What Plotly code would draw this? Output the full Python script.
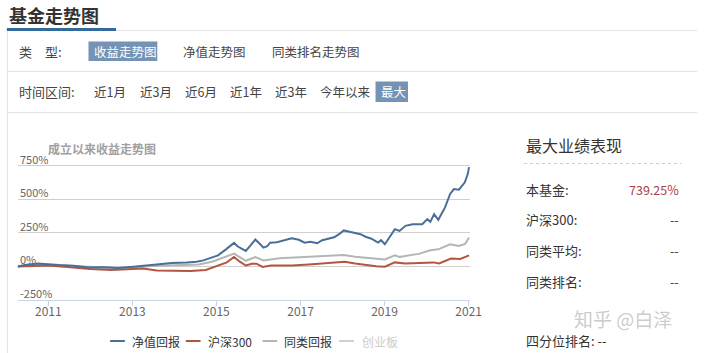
import plotly.graph_objects as go

# ---------------- data ----------------
nav_dates = ["2010-04-10", "2010-06-10", "2010-09-27", "2011-01-01", "2011-04-05", "2011-08-08",
             "2011-12-17", "2012-04-20", "2012-08-28", "2012-12-17", "2013-03-28", "2013-08-04",
             "2013-12-10", "2014-04-16", "2014-07-12", "2014-09-10", "2014-11-18", "2015-01-15",
             "2015-03-25", "2015-05-08", "2015-06-03", "2015-07-06", "2015-08-08", "2015-09-13",
             "2015-10-23", "2015-12-05", "2016-01-08", "2016-02-14", "2016-03-18", "2016-04-12",
             "2016-06-10", "2016-07-31", "2016-09-06", "2016-10-16", "2016-12-17", "2017-02-06",
             "2017-03-28", "2017-05-26", "2017-07-08", "2017-09-06", "2017-10-20", "2017-12-02",
             "2018-01-12", "2018-03-03", "2018-04-23", "2018-06-06", "2018-07-20", "2018-09-09",
             "2018-11-06", "2018-12-02", "2019-01-04", "2019-02-17", "2019-04-01", "2019-05-12",
             "2019-07-02", "2019-09-02", "2019-11-25", "2020-01-08", "2020-02-03", "2020-03-07",
             "2020-04-12", "2020-06-10", "2020-07-24", "2020-08-26", "2020-10-09", "2020-11-29",
             "2020-12-25", "2021-01-05"]
nav_values = [0, 10, 22, 14, 10, 5,
              -8, -6, -12, -4, 6, 18,
              26, 30, 35, 45, 66, 82,
              127, 157, 175, 148, 133, 115,
              155, 200, 172, 140, 150, 177,
              180, 190, 198, 210, 198, 177,
              183, 172, 195, 206, 217, 240,
              268, 258, 247, 240, 221, 206,
              177, 195, 165, 217, 277, 264,
              302, 314, 314, 352, 332, 389,
              347, 439, 539, 576, 571, 626,
              689, 739.25]

hs300_dates = ["2010-04-10", "2010-08-01", "2011-01-01", "2011-06-15", "2012-01-01", "2012-07-01",
               "2013-01-01", "2013-04-01", "2013-08-01", "2014-01-01", "2014-05-20", "2014-10-01",
               "2014-12-05", "2015-02-06", "2015-04-01", "2015-06-03", "2015-07-20", "2015-09-13",
               "2015-11-06", "2015-12-15", "2016-02-06", "2016-04-20", "2016-10-20", "2017-03-15",
               "2017-08-08", "2018-01-20", "2018-04-20", "2018-07-20", "2018-10-20", "2019-01-04",
               "2019-04-01", "2019-07-01", "2019-11-25", "2020-03-01", "2020-04-20", "2020-08-01",
               "2020-10-20", "2021-01-05"]
hs300_values = [0, 3, 6, -5, -20, -26,
                -18, -16, -30, -33, -34, -26,
                -7, 11, 30, 70, 37, 7,
                19, 20, -4, 7, 7, 15,
                22, 34, 22, 10, 2, -2,
                30, 22, 26, 30, 22, 58,
                56, 82]

peer_dates = ["2010-04-10", "2010-08-01", "2011-01-01", "2011-08-01", "2012-03-01", "2012-09-01",
              "2013-01-01", "2013-08-01", "2014-03-01", "2014-08-01", "2014-12-01", "2015-03-25",
              "2015-06-03", "2015-09-13", "2015-12-05", "2016-02-14", "2016-07-01", "2017-02-06",
              "2017-07-01", "2018-01-12", "2018-04-20", "2018-08-01", "2018-11-01", "2019-01-04",
              "2019-04-01", "2019-05-12", "2019-11-01", "2020-02-03", "2020-04-12", "2020-07-24",
              "2020-10-09", "2020-12-01", "2021-01-05"]
peer_values = [0, 12, 10, 3, -8, -12,
               -6, 5, 10, 15, 37, 70,
               95, 42, 70, 45, 60, 70,
               75, 85, 72, 65, 55, 52,
               82, 70, 95, 120, 127, 165,
               152, 168, 215]

series_names = ["净值回报", "沪深300", "同类回报", "创业板"]
y_tick_vals = [-250, 0, 250, 500, 750, 1000]
y_tick_text = ["-250%", "0%", "250%", "500%", "750%", ""]
x_tick_text = ["2011", "2013", "2015", "2017", "2019", "2021"]

type_options = ["收益走势图", "净值走势图", "同类排名走势图"]
period_options = ["近1月", "近3月", "近6月", "近1年", "近3年", "今年以来", "最大"]
perf_labels = ["本基金:", "沪深300:", "同类平均:", "同类排名:"]
perf_values = ["739.25%", "--", "--", "--"]

# ---------------- styles ----------------
W, H = 709, 353
FONT = "Noto Sans CJK SC"
C_BLUE = "#4b6e96"
C_RED = "#b3563f"
C_GRAY = "#b5b5b5"
C_LIGHT = "#d0d0d0"
colors = [C_BLUE, C_RED, C_GRAY, C_LIGHT]


def px(x):
    return x / W


def py(y):
    return 1 - y / H


fig = go.Figure()
for name, d, v, c in [(series_names[2], peer_dates, peer_values, C_GRAY),
                      (series_names[1], hs300_dates, hs300_values, C_RED),
                      (series_names[0], nav_dates, nav_values, C_BLUE)]:
    fig.add_trace(go.Scatter(x=d, y=v, mode="lines", name=name, showlegend=False,
                             line=dict(color=c, width=2), hoverinfo="skip"))

shapes = []
annotations = []


def text(x, y, s, size=13, color="#333", anchor="left", bold=False):
    annotations.append(dict(x=px(x), y=py(y), xref="paper", yref="paper", text=("<b>%s</b>" % s) if bold else s,
                            showarrow=False, xanchor=anchor, yanchor="middle",
                            font=dict(family=FONT, size=size, color=color)))


def hline(x0, x1, y, color="#e3e3e3", width=1, dash="solid"):
    shapes.append(dict(type="line", xref="paper", yref="paper", x0=px(x0), x1=px(x1), y0=py(y), y1=py(y),
                       line=dict(color=color, width=width, dash=dash)))


def rect(x0, x1, y0, y1, fill):
    shapes.append(dict(type="rect", xref="paper", yref="paper", x0=px(x0), x1=px(x1), y0=py(y1), y1=py(y0),
                       fillcolor=fill, line=dict(width=0), layer="below"))


# header
text(7, 15, "基金走势图", size=18, color="#333", bold=True)
rect(7, 118, 28, 31, "#336a9c")
hline(118, 709, 30.5)
shapes.append(dict(type="line", xref="paper", yref="paper", x0=px(7.5), x1=px(7.5), y0=py(31), y1=0,
                   line=dict(color="#e3e3e3", width=1)))
hline(8, 709, 71.5)
hline(8, 709, 112.5)

# type row
text(17, 51.5, "类　型:", size=13, color="#444")
rect(90, 160, 41.5, 61, "#7593b5")
type_x = [94, 184, 275]
for i, (s, x) in enumerate(zip(type_options, type_x)):
    text(x, 51.5, s, size=12.5, color="#fff" if i == 0 else "#444")

# period row
text(17, 92, "时间区间:", size=13, color="#444")
rect(382, 415, 81.5, 102, "#7593b5")
period_x = [94, 140, 186, 232, 278, 323, 386]
for i, (s, x) in enumerate(zip(period_options, period_x)):
    text(x, 92, s, size=12.5, color="#fff" if i == len(period_options) - 1 else "#444")

# chart title
text(47, 148, "成立以来收益走势图", size=12, color="#a0a0a0", bold=True)

# y tick labels, placed on the y axis scale (Highcharts style: inside, above grid line)
for v, s in zip(y_tick_vals, y_tick_text):
    if s:
        annotations.append(dict(x=px(18), y=v, xref="paper", yref="y", text=s, showarrow=False,
                                xanchor="left", yanchor="middle", yshift=7,
                                font=dict(family=FONT, size=11, color="#666")))

# legend (manual, Highcharts style)
leg_sym_x = [112, 189, 267, 345]
leg_txt_x = [132, 210, 287, 366]
for i, name in enumerate(series_names):
    hline(leg_sym_x[i], leg_sym_x[i] + 15, 341, color=colors[i], width=2)
    text(leg_txt_x[i], 341, name, size=12, color="#333" if i < 3 else "#cccccc")

# right panel
text(533, 145, "最大业绩表现", size=16, color="#333")
hline(533, 693, 163.5, color="#cccccc", width=1, dash="dot")
perf_y = [190, 219.5, 250.5, 281]
for lab, val, y in zip(perf_labels, perf_values, perf_y):
    text(533, y, lab, size=13, color="#333")
    text(693, y, val, size=12.5, color="#a8404a" if val != "--" else "#333", anchor="right")
text(533, 340, "四分位排名: --", size=13, color="#333")
text(582, 318, "知乎 @白泽", size=19, color="rgba(160,160,160,0.55)")

fig.update_layout(
    width=W, height=H, autosize=False,
    margin=dict(l=0, r=0, t=0, b=0),
    paper_bgcolor="white", plot_bgcolor="white",
    showlegend=False,
    shapes=shapes,
    annotations=annotations,
    xaxis=dict(domain=[px(18), px(478)], type="date",
               range=["2010-04-10", "2021-01-12"],
               tickvals=["%s-01-01" % t for t in x_tick_text], ticktext=x_tick_text,
               showgrid=False, showline=True, linecolor="#ccd6eb", linewidth=1,
               ticks="outside", ticklen=5, tickcolor="#ccd6eb", ticklabelstandoff=-4,
               tickfont=dict(family=FONT, size=12, color="#666"), zeroline=False, fixedrange=True),
    yaxis=dict(domain=[py(300), py(132)], range=[-250, 1000.6],
               tickvals=y_tick_vals, showticklabels=False,
               showgrid=True, gridcolor="#cfcfcf", gridwidth=1, zeroline=False, showline=False,
               fixedrange=True),
)

fig.write_html(
    "out.html",
    config={"displayModeBar": False, "responsive": False},
    post_script="document.body.style.margin='0';document.documentElement.style.overflow='hidden';"
                "document.body.style.overflow='hidden';",
)
